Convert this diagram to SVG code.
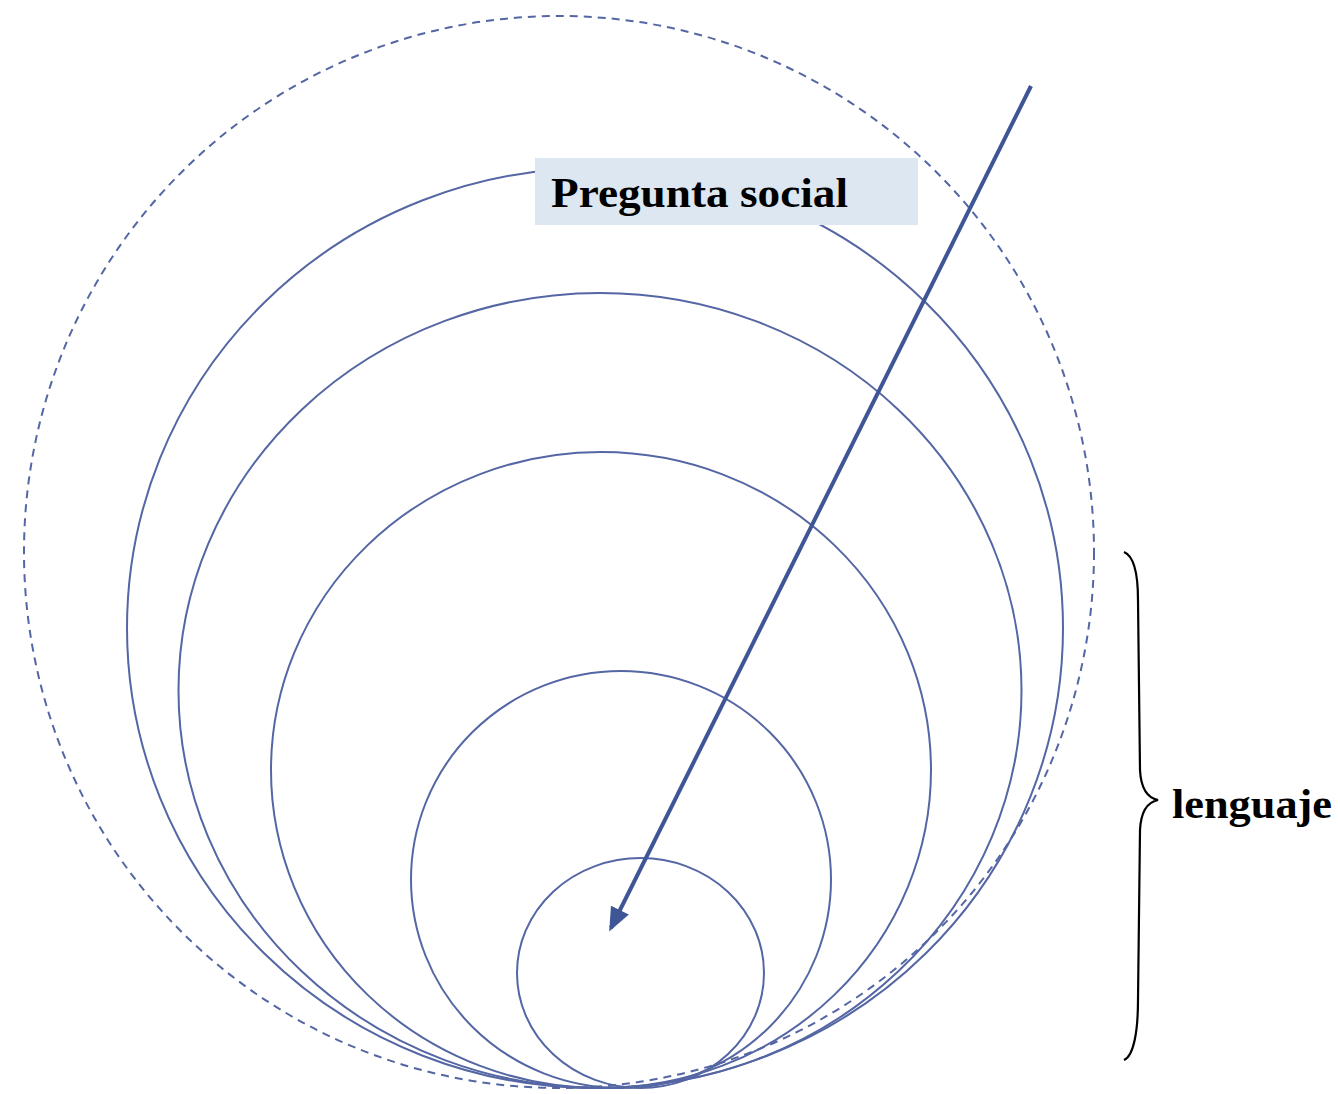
<svg xmlns="http://www.w3.org/2000/svg" width="1340" height="1094" viewBox="0 0 1340 1094">
<style>
.c{fill:none;stroke:#5466a3;stroke-width:2}
.d{fill:none;stroke:#5466a3;stroke-width:2;stroke-dasharray:8 6}
.t{font-family:"Liberation Serif",serif;font-weight:bold;fill:#000}
</style>
<defs>
<marker id="ah" markerWidth="6" markerHeight="6" refX="5" refY="3" orient="auto" markerUnits="strokeWidth">
<path d="M0,0.5 L6,3 L0,5.5 z" fill="#3f5696"/>
</marker>
</defs>
<rect width="1340" height="1094" fill="#fff"/>
<g id="outer-dashed"><ellipse class="d" cx="559" cy="552" rx="535" ry="536"/></g>
<g id="circle1"><ellipse class="c" cx="595" cy="628" rx="468" ry="460"/></g>
<g id="circle2"><ellipse class="c" cx="600" cy="690.5" rx="421.5" ry="397.5"/></g>
<g id="circle3"><ellipse class="c" cx="601" cy="770" rx="330" ry="318"/></g>
<g id="circle4"><ellipse class="c" cx="621" cy="879.5" rx="210" ry="208.5"/></g>
<g id="circle5"><ellipse class="c" cx="640.5" cy="973" rx="123.5" ry="115"/></g>
<g id="label-pregunta">
<rect x="535" y="158" width="383" height="67" fill="#dde7f1"/>
<text class="t" x="551" y="207" font-size="43" textLength="297" lengthAdjust="spacingAndGlyphs">Pregunta social</text>
</g>
<g id="connectors">
<line x1="1031" y1="86" x2="611" y2="928" stroke="#3f5696" stroke-width="4" marker-end="url(#ah)"/>
</g>
<g id="brace">
<path d="M1124,552 C1134,556 1138,575 1138,600 L1140,770 C1141,790 1148,798 1158,800 C1148,802 1141,810 1140,830 L1138,1000 C1138,1030 1134,1056 1124,1060" fill="none" stroke="#000" stroke-width="2.2"/>
</g>
<g id="label-lenguaje">
<text class="t" x="1172" y="818" font-size="42" textLength="160" lengthAdjust="spacingAndGlyphs">lenguaje</text>
</g>
</svg>
